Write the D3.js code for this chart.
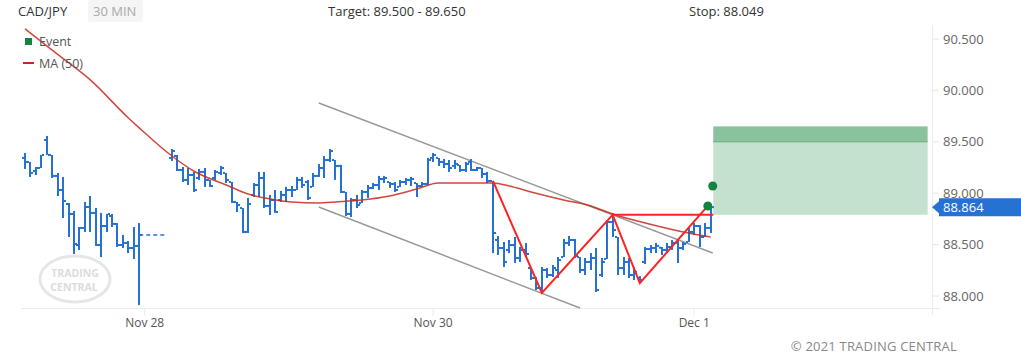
<!DOCTYPE html>
<html lang="en">
<head>
<meta charset="UTF-8">
<title>CAD/JPY 30 MIN</title>
<style>
    body { margin: 0; background: #fff; }
    svg { display: block; font-family: "Open Sans", sans-serif; }
    .hdr { font-size: 13px; fill: #333; }
    .axis-y text { font-size: 13px; fill: #666; }
    .axis-x text { font-size: 12px; fill: #555; }
    .legend text { font-size: 12.5px; fill: #555; }
</style>
</head>
<body>
<svg id="chart" width="1021" height="361"></svg>
<script src="https://d3js.org/d3.v7.min.js"></script>
<script>
    // 30 min bars; Friday session is slots 0..21, Sunday session starts at slot 27
    const open = [
        89.343, 89.304, 89.216, 89.245, 89.518, 89.372, 89.168, 89.031, 88.895, 88.798,
        88.496, 88.662, 88.866, 88.808, 88.496, 88.681, 88.778, 88.701, 88.496, 88.516,
        88.467, 88.487,
        89.343, 89.362, 89.226, 89.129, 89.177, 89.148, 89.207, 89.129, 89.148, 89.197,
        89.197, 89.109, 88.915, 88.856, 88.623, 88.983, 89.080, 89.148, 88.876, 88.934,
        88.934, 88.983, 89.031, 89.031, 89.129, 89.109, 89.061, 89.168, 89.245, 89.323,
        89.323, 89.265, 89.012, 88.798, 88.934, 88.905, 89.012, 89.051, 89.080, 89.138,
        89.109, 89.090, 89.061, 89.109, 89.129, 89.099, 89.070, 89.090, 89.343, 89.343,
        89.304, 89.284, 89.265, 89.275, 89.226, 89.304, 89.226, 89.245, 89.187, 89.119,
        88.545, 88.467, 88.448, 88.496, 88.370, 88.448, 88.272, 88.175, 88.078, 88.253,
        88.204, 88.253, 88.379, 88.516, 88.545, 88.379, 88.253, 88.331, 88.370, 88.204,
        88.360, 88.720, 88.574, 88.272, 88.331, 88.204, 88.175, 88.331, 88.457, 88.467,
        88.470, 88.448, 88.477, 88.516, 88.467, 88.525, 88.623, 88.681, 88.574, 88.662
    ];
    const high = [
        89.391, 89.304, 89.255, 89.372, 89.557, 89.372, 89.197, 89.158, 88.905, 88.827,
        88.671, 88.915, 88.973, 88.856, 88.808, 88.798, 88.798, 88.710, 88.594, 88.535,
        88.671, 88.710,
        89.430, 89.372, 89.255, 89.245, 89.207, 89.236, 89.245, 89.129, 89.226, 89.265,
        89.197, 89.109, 88.915, 88.856, 88.954, 89.099, 89.207, 89.207, 88.983, 89.031,
        89.022, 89.061, 89.070, 89.158, 89.158, 89.129, 89.197, 89.284, 89.362, 89.430,
        89.323, 89.275, 89.012, 88.954, 88.983, 89.031, 89.080, 89.099, 89.168, 89.168,
        89.109, 89.109, 89.129, 89.148, 89.158, 89.099, 89.109, 89.343, 89.391, 89.343,
        89.333, 89.323, 89.323, 89.275, 89.304, 89.333, 89.255, 89.245, 89.207, 89.119,
        88.584, 88.525, 88.545, 88.574, 88.477, 88.516, 88.272, 88.185, 88.282, 88.272,
        88.302, 88.379, 88.555, 88.584, 88.555, 88.379, 88.370, 88.418, 88.467, 88.370,
        88.739, 88.808, 88.574, 88.379, 88.370, 88.282, 88.195, 88.477, 88.496, 88.516,
        88.477, 88.516, 88.545, 88.555, 88.525, 88.662, 88.710, 88.691, 88.710, 88.885
    ];
    const low = [
        89.236, 89.158, 89.177, 89.245, 89.372, 89.148, 88.973, 88.759, 88.574, 88.409,
        88.448, 88.623, 88.623, 88.487, 88.379, 88.623, 88.671, 88.477, 88.467, 88.418,
        88.360, 87.912,
        89.314, 89.216, 89.109, 89.080, 89.012, 89.129, 89.061, 89.061, 89.129, 89.177,
        89.099, 88.905, 88.817, 88.613, 88.613, 88.963, 88.963, 88.856, 88.788, 88.808,
        88.915, 88.915, 88.963, 89.031, 89.051, 88.934, 89.061, 89.158, 89.148, 89.304,
        89.129, 89.002, 88.778, 88.769, 88.856, 88.905, 88.954, 89.041, 89.031, 89.099,
        89.051, 89.012, 89.061, 89.080, 89.070, 88.963, 89.061, 89.080, 89.304, 89.265,
        89.245, 89.207, 89.236, 89.207, 89.207, 89.216, 89.216, 89.148, 89.099, 88.418,
        88.399, 88.282, 88.418, 88.321, 88.331, 88.379, 88.156, 88.058, 88.029, 88.175,
        88.185, 88.175, 88.379, 88.487, 88.370, 88.224, 88.204, 88.253, 88.039, 88.185,
        88.360, 88.574, 88.204, 88.204, 88.175, 88.156, 88.126, 88.311, 88.418, 88.418,
        88.399, 88.418, 88.448, 88.321, 88.448, 88.525, 88.594, 88.477, 88.574, 88.613
    ];
    const close = [
        89.304, 89.197, 89.245, 89.372, 89.372, 89.168, 89.031, 88.924, 88.798, 88.506,
        88.662, 88.866, 88.808, 88.496, 88.681, 88.798, 88.701, 88.496, 88.516, 88.467,
        88.487, 88.594,
        89.411, 89.226, 89.129, 89.177, 89.031, 89.207, 89.129, 89.070, 89.207, 89.245,
        89.129, 88.915, 88.885, 88.623, 88.895, 89.080, 89.148, 88.876, 88.934, 88.817,
        88.983, 89.031, 89.031, 89.129, 89.080, 88.954, 89.168, 89.245, 89.323, 89.411,
        89.265, 89.012, 88.798, 88.934, 88.885, 89.012, 89.051, 89.080, 89.138, 89.148,
        89.090, 89.031, 89.109, 89.129, 89.138, 89.070, 89.090, 89.323, 89.372, 89.304,
        89.284, 89.245, 89.284, 89.226, 89.284, 89.226, 89.245, 89.187, 89.119, 88.613,
        88.467, 88.331, 88.496, 88.370, 88.448, 88.409, 88.175, 88.078, 88.253, 88.204,
        88.272, 88.350, 88.516, 88.545, 88.389, 88.253, 88.331, 88.370, 88.058, 88.331,
        88.720, 88.642, 88.272, 88.331, 88.204, 88.234, 88.156, 88.457, 88.467, 88.487,
        88.448, 88.477, 88.516, 88.467, 88.506, 88.623, 88.681, 88.574, 88.662, 88.864
    ];
    const slots = open.map((d, i) => i < 22 ? i : i + 5);

    // MA(50) read at some slots
    const maSlot = [0, 6, 12, 19, 21, 27, 31, 37, 41, 45, 49, 54, 57, 62, 67, 72, 76, 81, 86, 89, 93, 99, 104, 108, 114, 121, 126];
    const maVal = [90.598, 90.350, 90.102, 89.732, 89.635, 89.362, 89.216, 89.080, 88.992, 88.944, 88.915, 88.905, 88.915,
                   88.934, 88.973, 89.041, 89.099, 89.099, 89.099, 89.070, 89.012, 88.934, 88.876, 88.798, 88.710, 88.623, 88.574];

    // channel and pattern
    const channelUpper = [[54, 89.878], [126.4, 88.418]];
    const channelLower = [[54, 88.866], [102, 87.883]];
    const pattern = [[86, 89.119], [95, 88.030], [108, 88.790], [113, 88.126], [125.5, 88.876]];
    const neckline = [[108, 88.790], [126.5, 88.790]];
    const events = [[126.4, 89.070], [125.5, 88.876]];
    const target = [89.500, 89.650];
    const breakout = 88.790;
    const zoneSlots = [126.5, 165.9];
    const lastPrice = 88.864;

    const yTicks = [88, 88.5, 89, 89.5, 90, 90.5];
    const xTickSlots = [22, 75, 123];
    const xTickLabels = ["Nov 28", "Nov 30", "Dec 1"];

    const svg = d3.select("#chart");
    const x = d3.scaleLinear().domain([0, 166.7]).range([25, 932]);
    const y = d3.scaleLinear().domain([88, 90.5]).range([296, 39]);
    const blue = "#2672d2";

    // header
    svg.append("rect").attr("x", 88).attr("y", 0).attr("width", 55).attr("height", 22)
        .attr("rx", 3).attr("fill", "#f5f5f5");
    svg.append("text").attr("class", "hdr").attr("x", 18).attr("y", 16).text("CAD/JPY");
    svg.append("text").attr("class", "hdr").attr("x", 93).attr("y", 16).style("fill", "#aaa").text("30 MIN");
    svg.append("text").attr("class", "hdr").attr("x", 328).attr("y", 16).text("Target: 89.500 - 89.650");
    svg.append("text").attr("class", "hdr").attr("x", 689).attr("y", 16).text("Stop: 88.049");

    // watermark
    const wm = svg.append("g");
    wm.append("ellipse").attr("cx", 75).attr("cy", 279).attr("rx", 35).attr("ry", 23)
        .attr("fill", "none").attr("stroke", "#e6e6e6").attr("stroke-width", 3);
    wm.append("text").attr("x", 75).attr("y", 277).attr("text-anchor", "middle")
        .attr("font-size", 10.5).attr("font-weight", "bold").attr("fill", "#dcdcdc").text("TRADING");
    wm.append("text").attr("x", 74).attr("y", 291).attr("text-anchor", "middle")
        .attr("font-size", 10.5).attr("font-weight", "bold").attr("fill", "#dcdcdc").text("CENTRAL");

    // axes lines
    svg.append("line").attr("x1", 21).attr("x2", 940).attr("y1", 308.5).attr("y2", 308.5)
        .attr("stroke", "#ececec");
    svg.append("line").attr("x1", 932.5).attr("x2", 932.5).attr("y1", 25).attr("y2", 315)
        .attr("stroke", "#ececec");

    // target zone
    svg.append("rect").attr("x", x(zoneSlots[0])).attr("width", x(zoneSlots[1]) - x(zoneSlots[0]))
        .attr("y", y(target[0])).attr("height", y(breakout) - y(target[0])).attr("fill", "#c4e1cf");
    svg.append("rect").attr("x", x(zoneSlots[0])).attr("width", x(zoneSlots[1]) - x(zoneSlots[0]))
        .attr("y", y(target[1])).attr("height", y(target[0]) - y(target[1])).attr("fill", "#8bc29e");
    svg.append("line").attr("x1", x(zoneSlots[0])).attr("x2", x(zoneSlots[1]))
        .attr("y1", y(target[0])).attr("y2", y(target[0])).attr("stroke", "#6aa982");

    // y axis
    const ya = svg.append("g").attr("class", "axis-y");
    yTicks.forEach(t => {
        ya.append("line").attr("x1", 933).attr("x2", 939).attr("y1", y(t)).attr("y2", y(t)).attr("stroke", "#e6e6e6");
        ya.append("text").attr("x", 943).attr("y", y(t)).attr("dy", "0.35em").text(d3.format(".3f")(t));
    });

    // x axis
    const xa = svg.append("g").attr("class", "axis-x");
    xTickSlots.forEach((s, i) => {
        xa.append("line").attr("x1", x(s)).attr("x2", x(s)).attr("y1", 308).attr("y2", 316).attr("stroke", "#ececec");
        xa.append("text").attr("x", x(s)).attr("y", 327).attr("text-anchor", "middle").text(xTickLabels[i]);
    });

    // channel
    const line = d3.line().x(d => x(d[0])).y(d => y(d[1]));
    [channelUpper, channelLower].forEach(c => {
        svg.append("path").attr("d", line(c)).attr("fill", "none").attr("stroke", "#999").attr("stroke-width", 1.5);
    });

    // weekend gap dashed
    svg.append("line").attr("x1", x(21)).attr("x2", x(26)).attr("y1", y(close[21])).attr("y2", y(close[21]))
        .attr("stroke", blue).attr("stroke-width", 1.5).attr("stroke-dasharray", "4,3");

    // bars
    const bars = svg.append("g").attr("fill", blue);
    open.forEach((o, i) => {
        const cx = Math.round(x(slots[i]));
        const yh = y(high[i]), yl = y(low[i]);
        bars.append("rect").attr("x", cx - 1).attr("y", yh).attr("width", 2).attr("height", Math.max(1, yl - yh));
        bars.append("rect").attr("x", cx - 3).attr("y", y(o) - 1).attr("width", 2).attr("height", 2);
        bars.append("rect").attr("x", cx + 1).attr("y", y(close[i]) - 1).attr("width", 2).attr("height", 2);
    });

    // MA
    const maLine = d3.line().x(d => x(d[0])).y(d => y(d[1])).curve(d3.curveMonotoneX);
    svg.append("path").attr("d", maLine(maSlot.map((s, i) => [s, maVal[i]])))
        .attr("fill", "none").attr("stroke", "#c8281c").attr("stroke-opacity", 0.85).attr("stroke-width", 1.5);

    // pattern
    svg.append("path").attr("d", line(pattern)).attr("fill", "none").attr("stroke", "#ff2222").attr("stroke-width", 2);
    svg.append("path").attr("d", line(neckline)).attr("fill", "none").attr("stroke", "#ff2222").attr("stroke-width", 2);

    // events
    svg.selectAll(".ev").data(events).enter().append("circle")
        .attr("cx", d => x(d[0])).attr("cy", d => y(d[1])).attr("r", 4.5).attr("fill", "#13843f");

    // last price label
    const yl = y(lastPrice);
    svg.append("path").attr("d", `M932,${yl} L939,${yl - 6} L939,${yl - 9} L1021,${yl - 9} L1021,${yl + 9} L939,${yl + 9} L939,${yl + 6} Z`)
        .attr("fill", blue);
    svg.append("text").attr("x", 943).attr("y", yl).attr("dy", "0.35em").attr("font-size", 13)
        .attr("fill", "#fff").text(d3.format(".3f")(lastPrice));

    // legend
    const lg = svg.append("g").attr("class", "legend");
    lg.append("rect").attr("x", 25).attr("y", 38).attr("width", 7).attr("height", 7).attr("fill", "#13843f");
    lg.append("text").attr("x", 39).attr("y", 46).text("Event");
    lg.append("line").attr("x1", 23).attr("x2", 34).attr("y1", 63).attr("y2", 63).attr("stroke", "#c8281c").attr("stroke-width", 2);
    lg.append("text").attr("x", 39).attr("y", 68).text("MA (50)");

    // copyright
    svg.append("text").attr("x", 957).attr("y", 351).attr("text-anchor", "end").attr("font-size", 13)
        .attr("letter-spacing", 0.2).attr("fill", "#888").text("© 2021 TRADING CENTRAL");
</script>
</body>
</html>
